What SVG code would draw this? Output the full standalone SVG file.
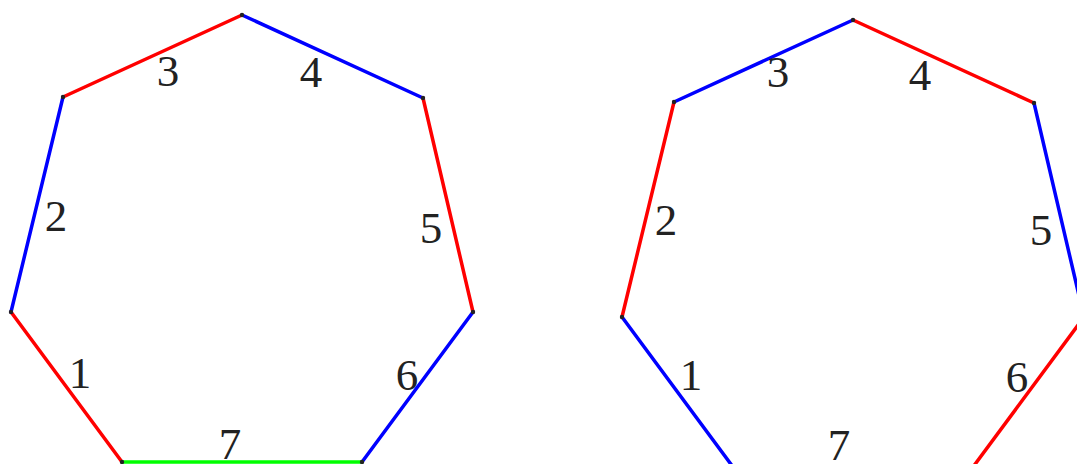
<svg xmlns="http://www.w3.org/2000/svg" width="1077" height="464" viewBox="0 0 1077 464">
<style>
.e{stroke-width:3.5;stroke-linecap:round;fill:none}
.r{stroke:#ff0000}.b{stroke:#0000ff}.g{stroke:#00ff00}
.v{fill:#222}
text{font-family:"Liberation Serif","DejaVu Serif",serif;font-size:45px;fill:#222;text-anchor:middle}
</style>
<rect width="1077" height="464" fill="#fff"/>
<g id="connectors">
<line class="e r" x1="122" y1="462" x2="11" y2="312"/>
<line class="e b" x1="11" y1="312" x2="63" y2="97"/>
<line class="e r" x1="63" y1="97" x2="242" y2="15"/>
<line class="e b" x1="242" y1="15" x2="423" y2="98"/>
<line class="e r" x1="423" y1="98" x2="473" y2="312"/>
<line class="e b" x1="473" y1="312" x2="362" y2="462"/>
<line class="e g" x1="362" y1="462" x2="122" y2="462"/>
<line class="e b" x1="733" y1="467" x2="622" y2="317"/>
<line class="e r" x1="622" y1="317" x2="674" y2="102"/>
<line class="e b" x1="674" y1="102" x2="853" y2="20"/>
<line class="e r" x1="853" y1="20" x2="1034" y2="103"/>
<line class="e b" x1="1034" y1="103" x2="1084" y2="317"/>
<line class="e r" x1="1084" y1="317" x2="973" y2="467"/>
</g>
<g id="left-vertices">
<g id="L1"><circle class="v" cx="122" cy="462" r="2.2"/></g>
<g id="L2"><circle class="v" cx="11" cy="312" r="2.2"/></g>
<g id="L3"><circle class="v" cx="63" cy="97" r="2.2"/></g>
<g id="L4"><circle class="v" cx="242" cy="15" r="2.2"/></g>
<g id="L5"><circle class="v" cx="423" cy="98" r="2.2"/></g>
<g id="L6"><circle class="v" cx="473" cy="312" r="2.2"/></g>
<g id="L7"><circle class="v" cx="362" cy="462" r="2.2"/></g>
</g>
<g id="right-vertices">
<g id="R2"><circle class="v" cx="622" cy="317" r="2.2"/></g>
<g id="R3"><circle class="v" cx="674" cy="102" r="2.2"/></g>
<g id="R4"><circle class="v" cx="853" cy="20" r="2.2"/></g>
<g id="R5"><circle class="v" cx="1034" cy="103" r="2.2"/></g>
</g>
<g id="left-labels">
<text x="80" y="388">1</text>
<text x="56" y="231">2</text>
<text x="168" y="86">3</text>
<text x="311" y="87">4</text>
<text x="431" y="243">5</text>
<text x="407" y="390">6</text>
<text x="230" y="459">7</text>
</g>
<g id="right-labels">
<text x="691" y="390">1</text>
<text x="666" y="235">2</text>
<text x="778" y="87">3</text>
<text x="920" y="90">4</text>
<text x="1041" y="245">5</text>
<text x="1017" y="392">6</text>
<text x="839" y="460">7</text>
</g>
</svg>
